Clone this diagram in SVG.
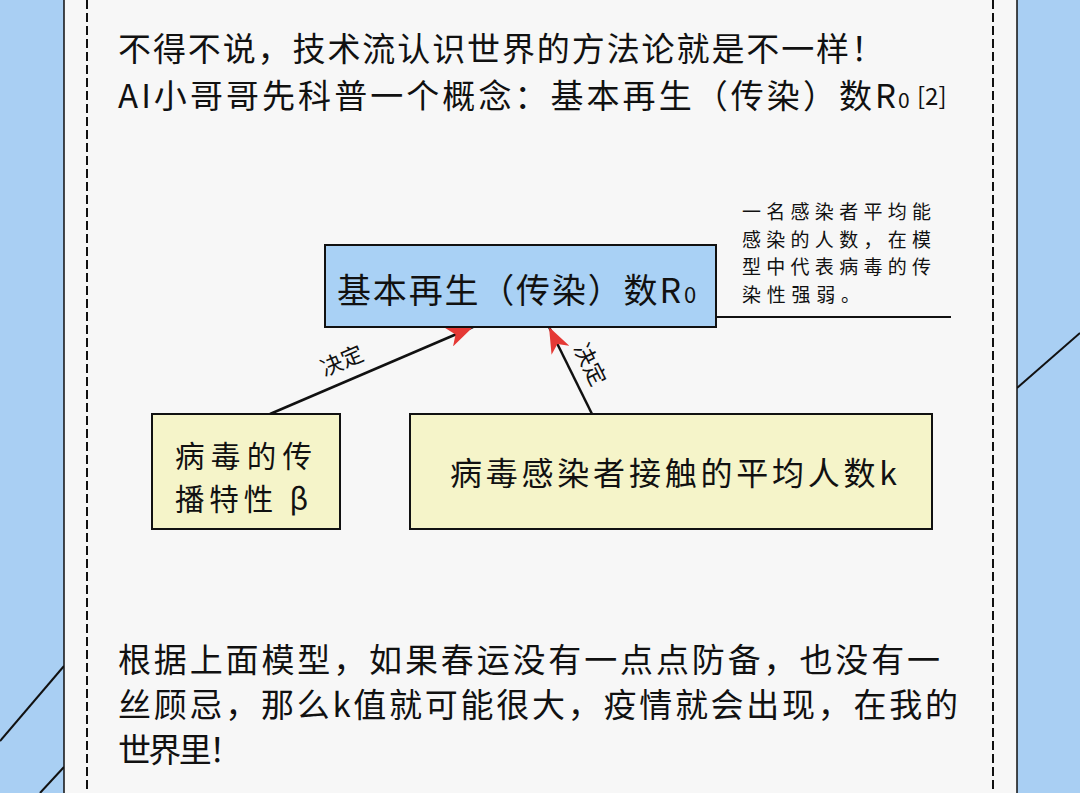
<svg xmlns="http://www.w3.org/2000/svg" width="1080" height="793" viewBox="0 0 1080 793">
<style>
.t{font-family:"Noto Sans CJK SC","Liberation Sans",sans-serif;fill:#111;}
.box{stroke:#111;stroke-width:2;}
.conn{stroke:#111;stroke-width:2.5;fill:none;}
.deco{stroke:#111;stroke-width:2;fill:none;}
</style>
<defs>
<marker id="ah" viewBox="0 0 26 20" refX="26" refY="10" markerWidth="26" markerHeight="20" markerUnits="userSpaceOnUse" orient="auto">
<path d="M0,0 L26,10 L0,20 L7,10 Z" fill="#e53935"/>
</marker>
</defs>
<rect width="1080" height="793" fill="#a9cff3"/>
<g id="background">
<line class="deco" x1="64" y1="666" x2="0" y2="741"/>
<line class="deco" x1="64" y1="767" x2="40" y2="793"/>
<line class="deco" x1="1017" y1="388" x2="1080" y2="333"/>
<rect x="64" y="-2" width="953" height="797" fill="#f7f7f7" stroke="#111" stroke-width="1.5"/>
<line x1="87" y1="0" x2="87" y2="793" stroke="#111" stroke-width="2" stroke-dasharray="9,4"/>
<line x1="993" y1="0" x2="993" y2="793" stroke="#111" stroke-width="2" stroke-dasharray="9,4"/>
</g>
<g id="heading">
<text class="t" x="118" y="61" font-size="33" textLength="766" lengthAdjust="spacing">不得不说，技术流认识世界的方法论就是不一样！</text>
<text class="t" x="118" y="108" font-size="33" textLength="778" lengthAdjust="spacing">AI小哥哥先科普一个概念：基本再生（传染）数R</text>
<text class="t" x="898" y="108" font-size="21">0</text>
<text class="t" x="917" y="105" font-size="24">[2]</text>
</g>
<g id="connectors">
<line class="conn" x1="270" y1="414" x2="473" y2="327" marker-end="url(#ah)"/>
<line class="conn" x1="592" y1="414" x2="549" y2="327" marker-end="url(#ah)"/>
<text class="t" font-size="22" text-anchor="middle" transform="translate(345,368) rotate(-23.2)">决定</text>
<text class="t" font-size="22" text-anchor="middle" transform="translate(583,368) rotate(63.7)">决定</text>
<line x1="716" y1="317" x2="951" y2="317" stroke="#111" stroke-width="2"/>
</g>
<g id="node-r0">
<rect class="box" x="325" y="245" width="391" height="82" fill="#a9d1f5"/>
<text class="t" x="337" y="303" font-size="34" textLength="344" lengthAdjust="spacing">基本再生（传染）数R</text>
<text class="t" x="684" y="303" font-size="22">0</text>
</g>
<g id="note-r0">
<text class="t" x="742" y="219" font-size="19" textLength="189" lengthAdjust="spacing">一名感染者平均能</text>
<text class="t" x="742" y="246.5" font-size="19" textLength="189" lengthAdjust="spacing">感染的人数，在模</text>
<text class="t" x="742" y="274" font-size="19" textLength="189" lengthAdjust="spacing">型中代表病毒的传</text>
<text class="t" x="742" y="301.5" font-size="19" textLength="118" lengthAdjust="spacing">染性强弱。</text>
</g>
<g id="node-beta">
<rect class="box" x="152" y="414" width="188" height="115" fill="#f5f4c9"/>
<text class="t" x="175" y="467" font-size="29.5" textLength="137" lengthAdjust="spacing">病毒的传</text>
<text class="t" x="175" y="510" font-size="29.5" textLength="133" lengthAdjust="spacing">播特性 β</text>
</g>
<g id="node-k">
<rect class="box" x="410" y="414" width="522" height="115" fill="#f5f4c9"/>
<text class="t" x="450" y="485" font-size="32" textLength="447" lengthAdjust="spacing">病毒感染者接触的平均人数k</text>
</g>
<g id="conclusion">
<text class="t" x="118" y="672" font-size="33" textLength="822" lengthAdjust="spacing">根据上面模型，如果春运没有一点点防备，也没有一</text>
<text class="t" x="118" y="717" font-size="33" textLength="840" lengthAdjust="spacing">丝顾忌，那么k值就可能很大，疫情就会出现，在我的</text>
<text class="t" x="118" y="762" font-size="33" textLength="124" lengthAdjust="spacing">世界里！</text>
</g>
</svg>
